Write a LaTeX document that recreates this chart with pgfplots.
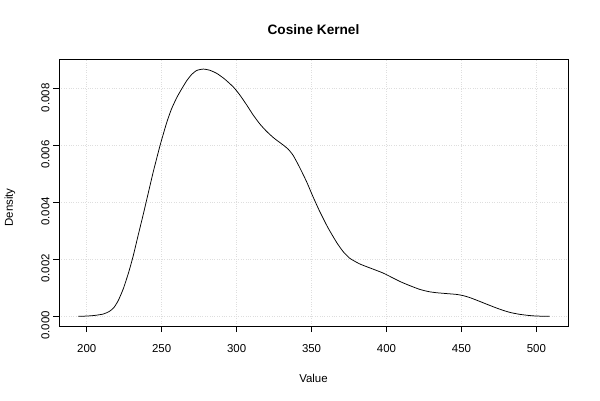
\documentclass[border=0pt]{standalone}
\usepackage{fontspec}
\setmainfont{Liberation Sans}
\usepackage{pgfplots}
\pgfplotsset{compat=1.18}
\begin{document}
\begin{tikzpicture}[x=1bp,y=1bp]
\useasboundingbox (0,0) rectangle (600,400);
\begin{axis}[
  at={(59bp,74bp)}, anchor=south west,
  scale only axis, width=509bp, height=267bp,
  xmin=181.5, xmax=521.1, ymin=-0.00034, ymax=0.009044,
  xtick={200,250,...,500},
  ytick={0,0.002,0.004,0.006,0.008},
  scaled y ticks=false,
  yticklabel style={/pgf/number format/fixed, /pgf/number format/fixed zerofill, /pgf/number format/precision=3},
  /pgf/number format/assume math mode=true,
  xtick pos=left, ytick pos=left,
  tick align=outside, major tick length=6bp,
  tick style={black, line width=0.7bp},
  axis line style={black, line width=0.7bp},
  grid=major, major grid style={dotted, black!13, line width=0.6bp},
  ticklabel style={font=\fontsize{11.5}{12}\selectfont},
  xticklabel style={anchor=north, yshift=-9bp},
  yticklabel style={rotate=90, anchor=south, xshift=-9bp},
  clip=false,
]
\addplot[black, line width=0.75bp, smooth, tension=0.35] coordinates {
(194.4,0) (200,0.00001) (205,0.00003) (211,0.00008) (215,0.00017) (218,0.00030)
(221,0.00055) (224.4,0.00097) (228,0.00155) (231,0.00212) (234,0.00278)
(237.7,0.00358) (241,0.00432) (244.4,0.00508) (248.9,0.00600) (253.3,0.00680)
(256.5,0.00728) (260,0.00768) (263,0.00796) (266.7,0.00828) (270,0.00850)
(273.3,0.00864) (277.8,0.00869) (282,0.00865) (286.7,0.00854) (292,0.00834)
(297.8,0.00806) (302,0.00779) (306.7,0.00743) (311,0.00708) (315.5,0.00676)
(320,0.00650) (325,0.00626) (331.1,0.00602) (334.5,0.00587) (337.8,0.00565)
(342,0.00524) (346.7,0.00473) (351,0.00420) (355.5,0.00368) (361,0.00311)
(366.7,0.00260) (371,0.00228) (375.5,0.00204) (382.2,0.00184) (390,0.00168)
(397.8,0.00152) (405,0.00133) (410,0.00120) (415.5,0.00108) (422,0.00095)
(428,0.00087) (433.3,0.00083) (440,0.00080) (446.7,0.00077) (451,0.00073)
(455.5,0.00066) (461,0.00055) (466.7,0.00043) (472,0.00032) (477.8,0.00021)
(483,0.00013) (488.9,0.00007) (495,0.00003) (500,0.00001) (508.9,0)
};
\end{axis}
\node[font=\bfseries\fontsize{13.7}{14}\selectfont] at (313.5,370) {Cosine Kernel};
\node[font=\fontsize{11.5}{12}\selectfont] at (313.5,22) {Value};
\node[font=\fontsize{11.5}{12}\selectfont, rotate=90] at (10,192.5) {Density};
\end{tikzpicture}
\end{document}
